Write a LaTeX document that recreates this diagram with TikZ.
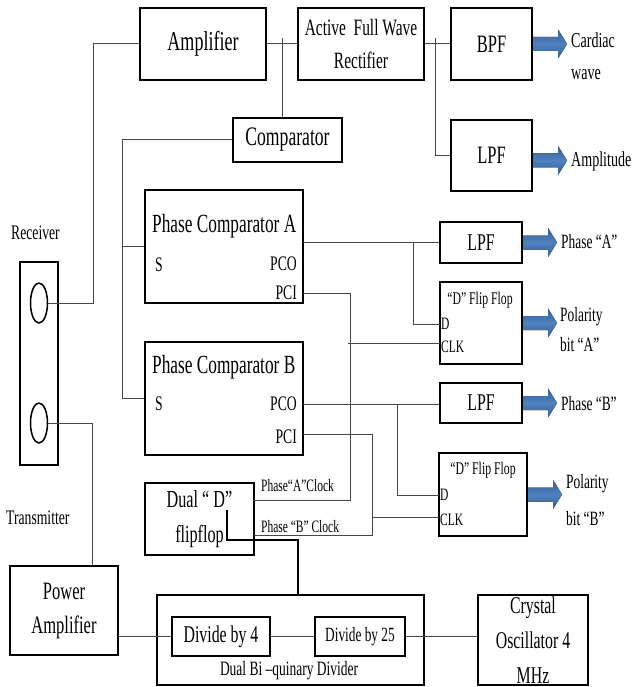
\documentclass[tikz,border=0pt]{standalone}
\usepackage{fontspec}
\setmainfont[FakeStretch=0.66]{Liberation Serif}
\usetikzlibrary{shapes.geometric,calc}
\definecolor{arrowblue}{RGB}{79,129,189}
\definecolor{arrowdark}{RGB}{52,96,152}
\newcommand{\fs}[2]{\fontsize{#1}{#2}\selectfont}
\begin{document}
\begin{tikzpicture}[x=1pt,y=-1pt,
  box/.style={draw=black, line width=2.1pt, inner sep=0pt, align=center},
  wire/.style={draw=black!72, line width=1pt},
  lab/.style={inner sep=0pt, align=left, anchor=west},
  port/.style={inner sep=0pt, font=\fs{20.7}{24}},
  barrow/.pic={\fill[top color=arrowdark, bottom color=arrowdark, middle color=arrowblue]
     (0,-7) -- (25,-7) -- (25,-14.5) -- (34,0) -- (25,14.5) -- (25,7) -- (0,7) -- cycle;}
]
\useasboundingbox (0,0) rectangle (631,687);

% ---------- boxes ----------
\node[box, minimum width=126pt, minimum height=72pt, font=\fs{27.3}{30}] (amp) at (203,44) {Amplifier};
\node[box, minimum width=126pt, minimum height=72pt, font=\fs{23.4}{33}] (rect) at (361,44) {Active\ \ Full Wave\\Rectifier};
\node[box, minimum width=81pt, minimum height=72pt, font=\fs{25}{28}] (bpf) at (491.5,44) {BPF};
\node[box, minimum width=81pt, minimum height=71pt, font=\fs{25}{28}] (lpf1) at (491.5,155.5) {LPF};
\node[box, minimum width=109pt, minimum height=44pt, font=\fs{26.7}{28}] (comp) at (287.5,140) {Comparator};

\node[box, minimum width=158pt, minimum height=113pt] (pca) at (224,246.5) {};
\node[box, minimum width=158pt, minimum height=113pt] (pcb) at (224,398.5) {};

\node[box, minimum width=82pt, minimum height=41pt, font=\fs{24}{26}] (lpfa) at (481,242.5) {LPF};
\node[box, minimum width=82pt, minimum height=82pt] (ffa) at (481,323) {};
\node[box, minimum width=82pt, minimum height=40pt, font=\fs{24}{26}] (lpfb) at (481,403) {LPF};
\node[box, minimum width=88pt, minimum height=83pt] (ffb) at (483,494.5) {};

\node[box, minimum width=109pt, minimum height=72pt, font=\fs{24.5}{35}] (dff) at (199.5,519) {Dual “ D”\\flipflop};
\node[box, minimum width=108pt, minimum height=89pt, font=\fs{25}{34}] (pa) at (64,610.5) {Power\\Amplifier};
\node[box, minimum width=267pt, minimum height=90pt] (dbq) at (290.5,640) {};
\node[box, minimum width=98pt, minimum height=39pt, font=\fs{24}{26}] (div4) at (221,636.5) {Divide by 4};
\node[box, minimum width=90pt, minimum height=39pt, font=\fs{20.2}{22}] (div25) at (360,636.5) {Divide by 25};
\node[box, minimum width=110pt, minimum height=90pt, font=\fs{24}{35}] (xtal) at (533,640) {Crystal\\Oscillator 4\\MHz};

\node[box, line width=2pt, minimum width=38pt, minimum height=203pt] (recv) at (39,363.5) {};
\node[ellipse, draw=black, line width=1.5pt, minimum width=17pt, minimum height=40pt, inner sep=0pt] (rc1) at (39,303) {};
\node[ellipse, draw=black, line width=1.5pt, minimum width=17pt, minimum height=40pt, inner sep=0pt] (rc2) at (39,423) {};

% ---------- texts inside boxes ----------
\node[lab, font=\fs{26.2}{28}] (pcat) at (152,226) {Phase Comparator A};
\node[port, anchor=west] (pcas) at (155,265) {S};
\node[port, anchor=east] (pcao) at (297,264) {PCO};
\node[port, anchor=east] (pcai) at (297,293) {PCI};
\node[lab, font=\fs{26.2}{28}] (pcbt) at (152,367) {Phase Comparator B};
\node[port, anchor=west] (pcbs) at (155,404) {S};
\node[port, anchor=east] (pcbo) at (297,404) {PCO};
\node[port, anchor=east] (pcbi) at (297,437) {PCI};

\node[inner sep=0pt, font=\fs{17.8}{20}] (ffat) at (480,300) {“D” Flip Flop};
\node[lab, font=\fs{17.4}{20}] (ffad) at (441,324) {D};
\node[lab, font=\fs{17.4}{20}] (ffac) at (441,347) {CLK};
\node[inner sep=0pt, font=\fs{17.8}{20}] (ffbt) at (483,470) {“D” Flip Flop};
\node[lab, font=\fs{17.4}{20}] (ffbd) at (440,495) {D};
\node[lab, font=\fs{17.4}{20}] (ffbc) at (440,520) {CLK};

\node[inner sep=0pt, font=\fs{20.4}{22}] (dbqt) at (289,671) {Dual Bi –quinary Divider};

% ---------- outside labels ----------
\node[lab, font=\fs{21.3}{32}] (card) at (571,56) {Cardiac\\wave};
\node[lab, font=\fs{21.3}{24}] (ampl) at (571,161) {Amplitude};
\node[lab, font=\fs{20.3}{24}] (pha) at (561,242) {Phase “A”};
\node[lab, font=\fs{20.3}{30}] (pola) at (560,330) {Polarity\\bit “A”};
\node[lab, font=\fs{20.3}{24}] (phb) at (561,404) {Phase “B”};
\node[lab, font=\fs{20.3}{37}] (polb) at (566,500) {Polarity\\bit “B”};
\node[lab, font=\fs{20.7}{24}] (rlab) at (11,233) {Receiver};
\node[lab, font=\fs{20.7}{24}] (tlab) at (6,518) {Transmitter};
\node[lab, font=\fs{17.4}{20}] (clka) at (261,486) {Phase“A”Clock};
\node[lab, font=\fs{17.4}{20}] (clkb) at (261,527) {Phase “B” Clock};

% ---------- connectors ----------
\draw[wire] (amp.east) -- (rect.west);
\coordinate (j1) at (282,38);
\draw[wire] (j1) -- (j1 |- comp.north);
\draw[wire] (rect.east) -- (bpf.west);
\coordinate (j2) at (435,38);
\draw[wire] (j2) |- (lpf1.west);
\draw[wire] (amp.west) -- ++(-45,0) |- (rc1.east);
\draw[wire] (comp.west) -- ++(-109,0) |- (pcb.west);
\draw[wire] (pca.west) -- ++(-21,0);
\draw[wire] (rc2.east) -- ++(44.5,0) coordinate (t1) -- (t1 |- pa.north);
\draw[wire] (pa.east |- div4.west) -- (div4.west);
\draw[wire] (div25.west) -- (div4.east);
\draw[wire] (div25.east) -- (div25.east -| xtal.west);

\coordinate (pcaO) at (303,242);
\draw[wire] (pcaO) -- (pcaO -| lpfa.west);
\coordinate (ja) at (413,242);
\coordinate (ffaD) at (440,324);
\draw[wire] (ja) |- (ffaD);
\coordinate (pcaI) at (303,293);
\coordinate (dffA) at (254,500);
\draw[wire] (pcaI) -- ++(47,0) |- (dffA);
\coordinate (ffaC) at (440,343);
\draw[wire] (ffaC) -- ++(-92,0);

\coordinate (pcbO) at (303,404);
\draw[wire] (pcbO) -- (pcbO -| lpfb.west);
\coordinate (jb) at (397,404);
\coordinate (ffbD) at (439,495);
\draw[wire] (jb) |- (ffbD);
\coordinate (pcbI) at (303,434);
\coordinate (dffB) at (254,535);
\draw[wire] (pcbI) -- ++(69,0) |- (dffB);
\coordinate (ffbC) at (439,517);
\draw[wire] (ffbC) -- ++(-67,0);

\coordinate (dffin) at (227,510);
\draw[draw=black, line width=1.6pt] (dffin) -- ++(0,30) -- ++(71,0) coordinate (k1) -- (k1 |- dbq.north);

% ---------- block arrows ----------
\pic at (bpf.east) {barrow};
\pic at ($(lpf1.east)+(0,5)$) {barrow};
\pic at (lpfa.east) {barrow};
\pic at (ffa.east) {barrow};
\pic at (lpfb.east) {barrow};
\pic at (ffb.east) {barrow};
\end{tikzpicture}
\end{document}
